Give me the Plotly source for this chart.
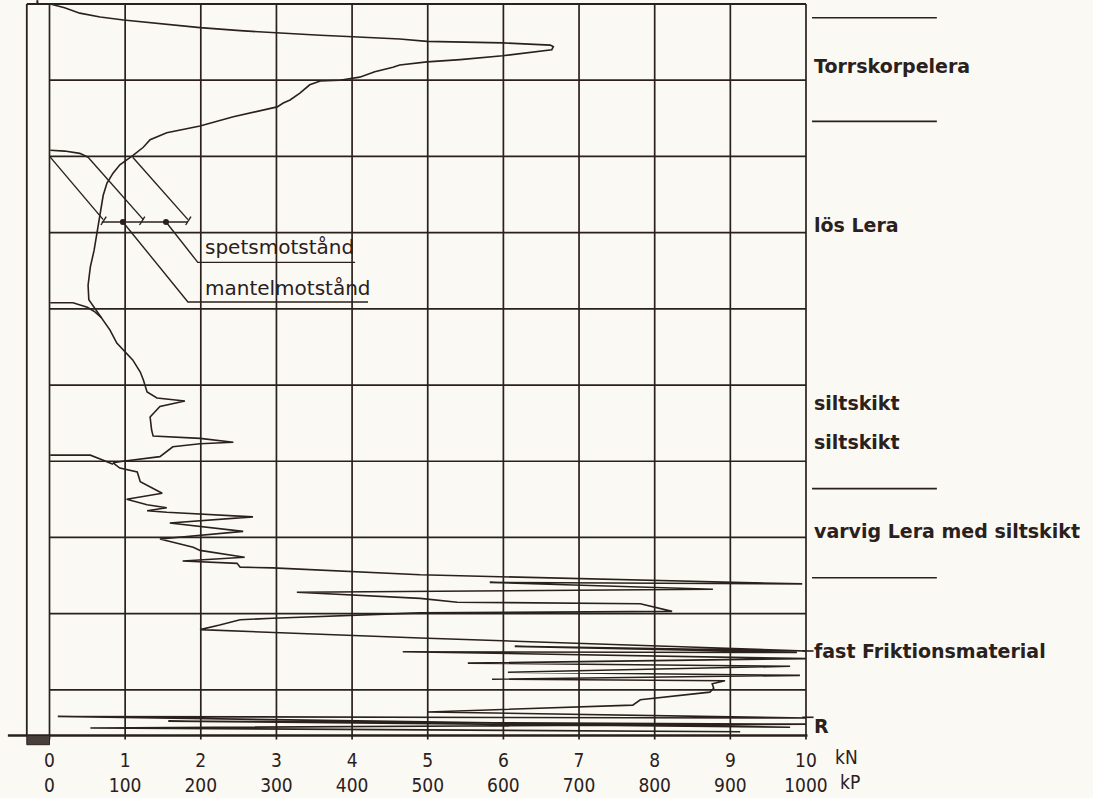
import plotly.graph_objects as go

# ---------------- data (resistance in kN, depth in grid units, 0 = top) ----------------
sounding_kN = [0.01, 0.20, 0.40, 0.67, 0.98, 1.46, 1.99, 2.52, 3.01, 3.58, 4.01, 4.63, 4.99, 5.56, 5.99,
               6.62, 6.66, 6.64, 5.99, 5.43, 4.99, 4.63, 4.54, 4.30, 4.10, 3.84, 3.58, 3.44, 3.31, 3.18,
               3.09, 3.01, 2.65, 2.43, 1.99, 1.55, 1.33, 1.24, 1.10, 0.93, 0.84, 0.76, 0.71, 0.67, 0.63,
               0.59, 0.54, 0.51, 0.52, 0.63, 0.71, 0.80, 0.89, 1.00, 1.10, 1.20, 1.24, 1.29, 1.42, 1.79,
               1.46, 1.33, 1.35, 1.37, 1.99, 2.43, 1.99, 1.63, 1.53, 1.46, 0.97, 0.84, 0.93, 1.16, 1.20,
               1.49, 1.02, 1.29, 1.55, 1.29, 1.55, 2.69, 1.59, 2.56, 1.46, 1.90, 1.99, 2.58, 1.76, 1.99,
               2.48, 2.52, 2.95, 4.90, 9.95, 5.82, 8.77, 3.27, 4.90, 5.39, 7.81, 8.23, 5.96, 4.90, 2.95,
               2.52, 2.25, 1.99, 4.90, 10.0, 6.15, 9.88, 4.67, 10.0, 5.53, 9.79, 6.06, 9.92, 5.85, 8.93,
               8.76, 8.78, 8.73, 7.81, 7.71, 5.00, 10.0, 0.11, 9.79, 1.57, 10.0, 0.54, 9.13]
sounding_depth = [0.00, 0.05, 0.12, 0.17, 0.21, 0.26, 0.31, 0.35, 0.38, 0.41, 0.43, 0.46, 0.49, 0.50, 0.51,
                  0.54, 0.56, 0.60, 0.68, 0.73, 0.76, 0.80, 0.83, 0.89, 0.96, 1.00, 1.01, 1.06, 1.17, 1.26,
                  1.30, 1.35, 1.43, 1.48, 1.60, 1.69, 1.78, 1.88, 1.99, 2.11, 2.22, 2.35, 2.51, 2.77, 3.01,
                  3.23, 3.45, 3.69, 3.88, 4.04, 4.15, 4.28, 4.45, 4.57, 4.67, 4.83, 4.93, 5.09, 5.17, 5.21,
                  5.28, 5.42, 5.59, 5.67, 5.70, 5.75, 5.77, 5.81, 5.88, 5.94, 6.00, 6.02, 6.09, 6.14, 6.27,
                  6.42, 6.50, 6.57, 6.61, 6.65, 6.67, 6.73, 6.81, 6.92, 7.02, 7.13, 7.17, 7.26, 7.31, 7.32,
                  7.34, 7.39, 7.40, 7.49, 7.61, 7.59, 7.68, 7.72, 7.80, 7.85, 7.87, 7.97, 7.98, 7.99, 8.06,
                  8.08, 8.15, 8.21, 8.32, 8.49, 8.43, 8.51, 8.50, 8.59, 8.65, 8.69, 8.77, 8.81, 8.86, 8.88,
                  8.92, 8.98, 9.03, 9.13, 9.20, 9.29, 9.37, 9.35, 9.49, 9.41, 9.45, 9.50, 9.55]

# short restart traces starting at zero
restart1_kN = [0.01, 0.20, 0.40, 0.51]
restart1_depth = [1.92, 1.93, 1.96, 2.01]
restart2_kN = [0.01, 0.31, 0.50, 0.60, 0.69]
restart2_depth = [3.92, 3.92, 3.98, 4.04, 4.12]
restart3_kN = [0.01, 0.54, 0.67, 0.76, 0.84]
restart3_depth = [5.92, 5.92, 5.97, 6.01, 6.04]

# legend sketch (measuring bar with leaders)
legend_bar_kN = [0.69, 1.83]
legend_bar_depth = 2.86
legend_tick_kN = [0.71, 1.22, 1.83]
legend_dot_kN = [0.97, 1.54]
legend_diag_start = [(0.01, 2.01), (0.51, 2.01), (1.10, 2.01)]
legend_diag_end = [(0.71, 2.83), (1.24, 2.83), (1.83, 2.83)]
spets_leader_kN = [1.54, 1.96, 4.04]
spets_leader_depth = [2.86, 3.39, 3.39]
mantel_leader_kN = [0.97, 1.83, 4.21]
mantel_leader_depth = [2.86, 3.91, 3.91]
legend_texts = ["spetsmotstånd", "mantelmotstånd"]
legend_text_depth = [3.19, 3.73]

# soil layers (right side)
layer_labels = ["Torrskorpelera", "lös Lera", "siltskikt", "siltskikt",
                "varvig Lera med siltskikt", "fast Friktionsmaterial", "R"]
layer_label_depth = [0.81, 2.90, 5.24, 5.75, 6.92, 8.49, 9.47]
layer_boundary_depth = [0.18, 1.54, 6.36, 7.53]
marker_tick_depth = [8.49, 9.36]

# axis ticks
kN_ticks = [0, 1, 2, 3, 4, 5, 6, 7, 8, 9, 10]
kP_ticks = [0, 100, 200, 300, 400, 500, 600, 700, 800, 900, 1000]
depth_grid = [0, 1, 2, 3, 4, 5, 6, 7, 8, 9]
depth_bottom = 9.6

INK = "#2a201c"
BG = "#fbf9f3"
LBL_FONT = "DejaVu Sans"
TICK_FONT = "Liberation Sans Narrow, DejaVu Sans Condensed, DejaVu Sans, sans-serif"

fig = go.Figure()


def add_line(xs, ys, w=1.6):
    fig.add_trace(go.Scatter(x=xs, y=ys, mode="lines", line=dict(color=INK, width=w),
                             hoverinfo="skip", showlegend=False))


add_line(sounding_kN, sounding_depth)
add_line(restart1_kN, restart1_depth)
add_line(restart2_kN, restart2_depth)
add_line(restart3_kN, restart3_depth)
add_line(spets_leader_kN, spets_leader_depth, 1.4)
add_line(mantel_leader_kN, mantel_leader_depth, 1.4)
for (x0, y0), (x1, y1) in zip(legend_diag_start, legend_diag_end):
    add_line([x0, x1], [y0, y1], 1.4)
add_line(legend_bar_kN, [legend_bar_depth, legend_bar_depth], 1.4)
for tx in legend_tick_kN:
    add_line([tx - 0.03, tx + 0.04], [legend_bar_depth + 0.04, legend_bar_depth - 0.07], 1.4)
fig.add_trace(go.Scatter(x=legend_dot_kN, y=[legend_bar_depth] * len(legend_dot_kN), mode="markers",
                         marker=dict(color=INK, size=6), hoverinfo="skip", showlegend=False))

shapes = []
# grid
for gx in kN_ticks:
    shapes.append(dict(type="line", xref="x", yref="y", x0=gx, x1=gx, y0=0, y1=depth_bottom + 0.05,
                       line=dict(color=INK, width=1.7)))
for gd in depth_grid[1:]:
    shapes.append(dict(type="line", xref="x", yref="y", x0=0, x1=kN_ticks[-1], y0=gd, y1=gd,
                       line=dict(color=INK, width=1.7)))
# frame: top, bottom, rod column
shapes.append(dict(type="line", xref="x", yref="y", x0=-0.30, x1=10, y0=0, y1=0,
                   line=dict(color=INK, width=2.2)))
shapes.append(dict(type="line", xref="x", yref="y", x0=-0.55, x1=10.02, y0=depth_bottom, y1=depth_bottom,
                   line=dict(color=INK, width=2.4)))
shapes.append(dict(type="line", xref="x", yref="y", x0=-0.30, x1=-0.30, y0=0, y1=depth_bottom,
                   line=dict(color=INK, width=1.8)))
shapes.append(dict(type="line", xref="x", yref="y", x0=-0.16, x1=-0.16, y0=-0.05, y1=0,
                   line=dict(color=INK, width=2)))
shapes.append(dict(type="rect", xref="x", yref="y", x0=-0.30, x1=0, y0=depth_bottom, y1=depth_bottom + 0.12,
                   fillcolor="#4a3e3a", line=dict(color=INK, width=1)))
# layer boundaries on the right
for ld in layer_boundary_depth:
    shapes.append(dict(type="line", xref="x", yref="y", x0=10.08, x1=11.73, y0=ld, y1=ld,
                       line=dict(color=INK, width=1.6)))
for md in marker_tick_depth:
    shapes.append(dict(type="line", xref="x", yref="y", x0=9.95, x1=10.1, y0=md, y1=md,
                       line=dict(color=INK, width=1.6)))

annotations = []
for txt, d in zip(layer_labels, layer_label_depth):
    annotations.append(dict(x=10.08, y=d, xref="x", yref="y", text=f"<b>{txt}</b>", showarrow=False,
                            xanchor="left", yanchor="middle",
                            font=dict(family=LBL_FONT, size=19, color=INK)))
for txt, d in zip(legend_texts, legend_text_depth):
    annotations.append(dict(x=2.03, y=d, xref="x", yref="y", text=txt, showarrow=False,
                            xanchor="left", yanchor="middle",
                            font=dict(family=LBL_FONT, size=20, color=INK)))
annotations.append(dict(x=10.36, y=-0.0134, xref="x", yref="paper", text="kN", showarrow=False,
                        xanchor="left", yanchor="middle", font=dict(family=TICK_FONT, size=19, color=INK)))
annotations.append(dict(x=10.42, y=-0.0469, xref="x", yref="paper", text="kP", showarrow=False,
                        xanchor="left", yanchor="middle", font=dict(family=TICK_FONT, size=19, color=INK)))

fig.update_layout(
    width=1093, height=798,
    margin=dict(l=0, r=0, t=0, b=51, pad=0),
    paper_bgcolor=BG, plot_bgcolor=BG,
    shapes=shapes, annotations=annotations,
    showlegend=False, hovermode=False,
    xaxis=dict(range=[-0.6543, 13.794], showgrid=False, zeroline=False, showline=False,
               tickvals=kN_ticks, ticktext=[f"{a}<br>{b}" for a, b in zip(kN_ticks, kP_ticks)],
               ticks="", automargin=False, fixedrange=True,
               tickfont=dict(family=TICK_FONT, size=19, color=INK)),
    yaxis=dict(range=[9.75, -0.0525], visible=False, automargin=False, fixedrange=True),
)

fig.write_html("out.html",
               config={"displayModeBar": False, "staticPlot": True},
               post_script="document.body.style.margin='0';document.body.style.overflow='hidden';"
                           "document.body.style.background='" + BG + "';")
